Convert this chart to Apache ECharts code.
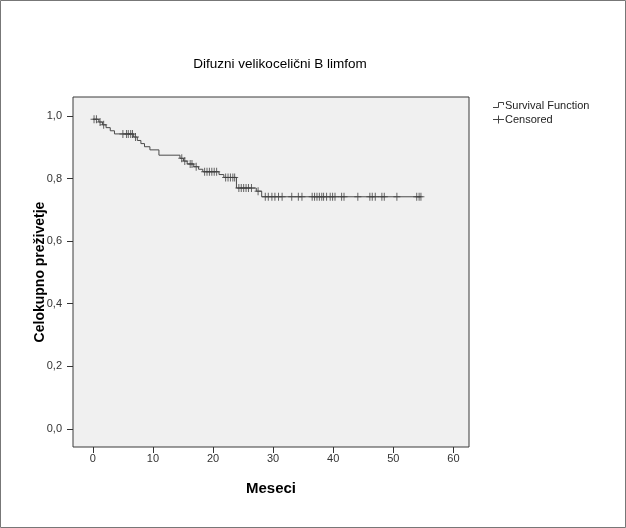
<!DOCTYPE html>
<html>
<head>
<meta charset="utf-8">
<script src="https://cdn.jsdelivr.net/npm/echarts@6/dist/echarts.min.js"></script>
<style>
  html, body { margin: 0; padding: 0; background: #ffffff; }
  #chart { width: 626px; height: 528px; }
</style>
</head>
<body>
<div id="chart"></div>
<script>
// Kaplan-Meier overall survival, diffuse large B-cell lymphoma
const chartTitle = 'Difuzni velikocelični B limfom';
const xAxisName = 'Meseci';
const yAxisName = 'Celokupno preživetje';
const legendNames = ['Survival Function', 'Censored'];

const xTicks = [0, 10, 20, 30, 40, 50, 60];
const yTicks = [0, 0.2, 0.4, 0.6, 0.8, 1.0];

// event times (months) and survival level after each event
const eventTimes = [0, 1.0, 1.6, 2.2, 2.9, 3.6, 6.8, 7.4, 8.0, 8.6, 9.5, 11.0, 14.5, 15.1, 15.7, 16.8, 17.6, 18.3, 21.0, 21.8, 23.9, 27.2, 28.1];
const survival   = [0.990, 0.981, 0.972, 0.963, 0.953, 0.943, 0.933, 0.922, 0.912, 0.902, 0.892, 0.875, 0.865, 0.856, 0.847, 0.838, 0.830, 0.822, 0.813, 0.804, 0.770, 0.760, 0.742];
const lastFollowUp = 54.6;

// censored observations (months)
const censorTimes = [0.2, 0.6, 1.2, 1.8, 5.0, 5.6, 5.9, 6.3, 6.6, 7.1, 14.8, 15.3, 16.2, 16.5, 17.2,
  18.6, 19.0, 19.4, 19.8, 20.2, 20.6, 22.1, 22.5, 22.9, 23.3, 23.6, 24.3, 24.7, 25.1, 25.5, 25.9, 26.4,
  27.5, 28.7, 29.2, 29.8, 30.3, 30.9, 31.5, 33.1, 34.2, 34.8, 36.5, 36.9, 37.3, 37.7, 38.1, 38.4, 38.9,
  39.5, 39.9, 40.3, 41.4, 41.8, 44.1, 46.1, 46.5, 47.0, 48.1, 48.5, 50.6, 53.9, 54.3, 54.6];

// survival curve as step points
const curveData = eventTimes.map((t, i) => [t, survival[i]]);
curveData.push([lastFollowUp, survival[survival.length - 1]]);

// each censored case sits on the curve level in force at its time
function levelAt(t) {
  let s = survival[0];
  for (let i = 0; i < eventTimes.length; i++) {
    if (eventTimes[i] <= t) s = survival[i];
  }
  return s;
}
const censorData = censorTimes.map(t => [t, levelAt(t)]);

const FONT = '"Liberation Sans", Arial, sans-serif';
const crossPath = 'path://M3,0h1v8h-1z M0,3.5h7v1h-7z';
const commaFmt = v => v.toFixed(1).replace('.', ',');

const chart = echarts.init(document.getElementById('chart'), null, { renderer: 'canvas' });

chart.setOption({
  backgroundColor: '#ffffff',
  animation: false,
  title: {
    text: chartTitle,
    left: 275, top: 52, textAlign: 'center',
    textStyle: { fontFamily: FONT, fontSize: 13.5, fontWeight: 'normal', color: '#000' }
  },
  grid: {
    left: 73, top: 97, right: 157, bottom: 81,
    show: true, backgroundColor: '#f0f0f0', borderColor: '#3a3a3a', borderWidth: 1
  },
  xAxis: {
    type: 'value', min: -3.3, max: 62.6,
    name: xAxisName, nameLocation: 'middle', nameGap: 34, nameMoveOverlap: false,
    nameTextStyle: { fontFamily: FONT, fontSize: 15, fontWeight: 'bold', color: '#000' },
    axisLine: { show: false, onZero: false },
    axisTick: { show: true, inside: false, length: 6, customValues: xTicks, lineStyle: { color: '#333' } },
    axisLabel: { customValues: xTicks, margin: 6, fontFamily: FONT, fontSize: 11, color: '#333' },
    splitLine: { show: false }
  },
  yAxis: {
    type: 'value', min: -0.058, max: 1.061,
    name: yAxisName, nameLocation: 'middle', nameGap: 26, nameMoveOverlap: false,
    nameTextStyle: { fontFamily: FONT, fontSize: 14, fontWeight: 'bold', color: '#000' },
    axisLine: { show: false, onZero: false },
    axisTick: { show: true, inside: false, length: 6, customValues: yTicks, lineStyle: { color: '#333' } },
    axisLabel: { customValues: yTicks, margin: 11, formatter: commaFmt, fontFamily: FONT, fontSize: 11, color: '#333' },
    splitLine: { show: false }
  },
  series: [
    {
      name: legendNames[0], type: 'line', step: 'end', data: curveData,
      showSymbol: false, lineStyle: { color: '#4a4a4a', width: 1 }, z: 2
    },
    {
      name: legendNames[1], type: 'scatter', data: censorData,
      symbol: crossPath, symbolSize: [7, 8], itemStyle: { color: '#404040' }, z: 3
    }
  ],
  graphic: [
    { type: 'rect', shape: { x: 0.5, y: 0.5, width: 625, height: 527 }, style: { fill: 'none', stroke: '#777', lineWidth: 1 }, silent: true },
    { type: 'polyline', shape: { points: [[493, 107.5], [498.5, 107.5], [498.5, 102.5], [503.5, 102.5], [503.5, 105]] }, style: { fill: 'none', stroke: '#444', lineWidth: 1 } },
    { type: 'text', x: 505, y: 105.5, style: { text: legendNames[0], fontFamily: FONT, fontSize: 11, fill: '#222', verticalAlign: 'middle' } },
    { type: 'line', shape: { x1: 493, y1: 119.5, x2: 504, y2: 119.5 }, style: { stroke: '#444', lineWidth: 1 } },
    { type: 'line', shape: { x1: 498.5, y1: 115.5, x2: 498.5, y2: 123.5 }, style: { stroke: '#444', lineWidth: 1 } },
    { type: 'text', x: 505, y: 120, style: { text: legendNames[1], fontFamily: FONT, fontSize: 11, fill: '#222', verticalAlign: 'middle' } }
  ]
});
</script>
</body>
</html>
